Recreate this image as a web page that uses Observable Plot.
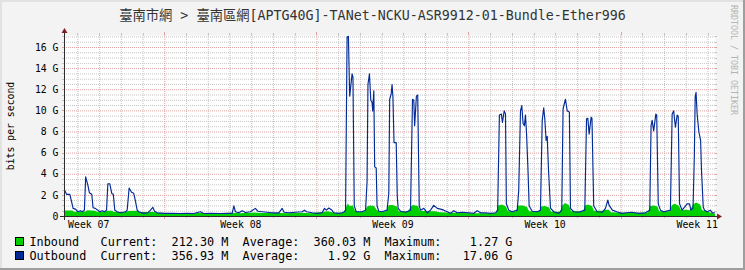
<!DOCTYPE html>
<html>
<head>
<meta charset="utf-8">
<script src="https://cdn.jsdelivr.net/npm/d3@7"></script>
<script src="https://cdn.jsdelivr.net/npm/@observablehq/plot@0.6"></script>
<style>
html, body { margin: 0; padding: 0; background: #f3f3f3; }
svg text { white-space: pre; }
</style>
</head>
<body>
<div id="chart"></div>
<script>
// ---- texts ----
const title = "臺南市網 > 臺南區網[APTG40G]-TANet-NCKU-ASR9912-01-Bundle-Ether996";
const yLabel = "bits per second";
const watermark = "RRDTOOL / TOBI OETIKER";

// ---- axes (time in days from the start of Week 08, values in Gbit/s) ----
const xDomain = [-4.615, 25.345];
const yDomain = [0, 17.136];
const yTicks = [0, 2, 4, 6, 8, 10, 12, 14, 16];
const yTickLabels = ["0", "2 G", "4 G", "6 G", "8 G", "10 G", "12 G", "14 G", "16 G"];
const weekStarts = [0, 7, 14, 21];
const weekLabelPos = [-3.5, 3.5, 10.5, 17.5, 24.5];
const weekLabels = ["Week 07", "Week 08", "Week 09", "Week 10", "Week 11"];

// ---- legend ----
const seriesNames = ["Inbound", "Outbound"];
const seriesColors = ["#00CF00", "#002A97"];
const currentVals = ["212.30 M", "356.93 M"];
const averageVals = ["360.03 M", "1.92 G"];
const maximumVals = ["1.27 G", "17.06 G"];

// ---- Outbound (line) ----
const outT = [-4.615,-4.52,-4.37,-4.29,-4.22,-4.11,-4.00,-3.88,-3.79,-3.70,-3.64,-3.54,-3.47,-3.36,-3.30,-3.20,-3.08,-2.99,-2.88,-2.77,-2.68,-2.62,-2.53,-2.44,-2.37,-2.30,-2.19,-2.04,-1.81,-1.73,-1.64,-1.53,-1.43,-1.35,-1.27,-1.20,-0.97,-0.78,-0.66,-0.55,-0.47,-0.35,0,
0.34,0.72,1.03,1.33,1.64,1.79,2.10,2.56,2.87,3.10,3.18,3.25,3.41,3.56,3.71,3.94,4.17,4.28,4.48,4.71,4.94,5.25,5.40,5.49,5.71,6.01,6.32,6.43,6.52,6.78,7.01,7.24,7.35,7.44,7.55,7.67,7.78,8.01,8.16,8.27,
8.32,8.39,8.45,8.51,8.62,8.66,8.72,8.81,8.93,9.08,9.24,9.31,9.35,9.42,9.48,9.54,9.57,9.62,9.66,9.73,9.77,9.85,10.00,10.23,10.31,10.35,10.42,10.46,10.50,10.55,10.65,10.70,10.74,10.85,11.08,11.31,11.40,11.46,11.50,11.58,11.64,11.71,11.77,11.92,12.08,12.23,12.38,12.54,12.69,12.84,13.00,13.15,13.30,13.46,13.69,13.99,14.22,14.38,14.53,14.76,14.99,15.22,
15.32,15.40,15.49,15.54,15.62,15.68,15.72,15.83,15.99,16.22,16.29,16.37,16.43,16.49,16.55,16.60,16.65,16.71,16.77,16.91,17.14,17.29,17.37,17.44,17.49,17.55,17.60,17.66,17.75,17.90,18.13,18.27,18.33,18.44,18.52,18.62,18.67,18.82,19.04,19.33,19.41,19.47,19.53,19.62,19.66,19.74,19.90,20.13,20.28,20.39,20.45,20.60,20.80,21.03,21.26,21.49,21.81,22.12,
22.32,22.38,22.43,22.50,22.60,22.64,22.71,22.81,22.96,23.27,23.35,23.42,23.50,23.58,23.63,23.69,23.81,24.04,24.15,24.21,24.31,24.37,24.41,24.45,24.50,24.58,24.66,24.70,24.78,24.84,24.96,25.11,25.19,25.30];
const outV = [2.5,2.1,2.1,1.4,0.77,0.7,0.45,0.55,0.45,0.6,3.75,2.97,2.25,2.1,0.83,0.77,0.6,0.45,0.55,0.45,0.6,3.1,3.1,2.18,2.1,0.6,0.45,0.35,0.45,0.6,2.7,2.3,2.2,1.45,0.6,0.45,0.3,0.35,0.6,0.87,0.5,0.35,0.3,
0.3,0.28,0.3,0.28,0.45,0.28,0.3,0.28,0.3,0.3,1.0,0.45,0.35,0.55,0.38,0.45,0.77,0.5,0.45,0.4,0.35,0.35,0.77,0.4,0.35,0.4,0.45,0.6,0.45,0.35,0.3,0.35,0.77,0.6,0.8,0.65,0.35,0.3,0.35,0.45,
0.6,17.0,17.06,11.4,13.5,13.2,1.0,0.45,0.45,0.45,0.6,3.3,12.5,13.5,11.0,10.8,10.0,11.9,4.7,4.6,1.0,0.5,0.45,0.6,2.2,11.1,11.6,12.5,11.3,7.0,7.0,1.9,0.77,0.5,0.4,0.6,11.1,11.0,8.6,11.4,11.5,1.0,0.6,0.77,0.35,0.6,1.05,0.77,0.7,0.6,0.45,0.3,0.55,0.35,0.4,0.35,0.3,0.55,0.35,0.35,0.3,0.35,
0.6,9.6,9.7,8.9,10.0,9.7,1.2,0.6,0.45,0.6,2.5,10.0,10.5,8.8,8.6,9.6,7.8,4.7,1.0,0.5,0.45,0.6,9.1,10.3,9.2,7.2,7.6,4.4,0.8,0.45,0.3,0.6,10.2,11.1,10.0,9.9,0.77,0.45,0.4,0.6,9.25,9.3,7.8,9.4,9.3,1.0,0.45,0.4,0.77,1.55,1.05,0.6,0.45,0.3,0.35,0.4,0.3,0.35,
0.6,8.6,9.1,8.1,9.7,9.6,1.2,0.6,0.45,0.6,9.7,10.0,8.45,9.6,9.5,1.2,0.6,1.2,1.2,0.6,0.77,5.6,11.3,11.75,9.7,8.0,7.2,4.4,0.9,0.6,0.45,0.6,0.35,0.357];

// ---- Inbound (area) ----
const inT = [-4.615,-4.24,-4.15,-3.64,-3.54,-3.19,-3.10,-2.73,-2.64,-2.41,-2.32,-1.81,-1.67,-1.21,-1.12,-0.57,-0.29,0,0.72,1.64,2.56,3.12,3.50,4.13,4.50,5.31,5.77,6.35,6.72,7.26,7.53,7.81,8.22,
8.32,8.44,8.54,8.68,8.77,9.00,9.24,9.33,9.47,9.65,9.77,9.90,10.21,10.34,10.51,10.70,10.79,11.21,11.35,11.44,11.67,11.77,12.23,12.46,12.69,13.38,14.07,14.76,15.27,
15.36,15.54,15.72,15.82,16.19,16.30,16.51,16.69,16.79,17.25,17.34,17.52,17.71,17.80,18.21,18.32,18.44,18.62,18.72,19.28,19.36,19.50,19.68,19.77,20.18,20.28,20.45,20.55,21.20,21.89,22.26,
22.35,22.54,22.70,22.77,23.27,23.36,23.50,23.69,23.78,24.01,24.19,24.33,24.47,24.66,24.75,24.98,25.15,25.345];
const inV = [0.52,0.52,0.4,0.42,0.55,0.5,0.4,0.4,0.5,0.5,0.38,0.38,0.48,0.5,0.35,0.4,0.3,0.28,0.26,0.28,0.26,0.3,0.26,0.33,0.28,0.28,0.25,0.3,0.26,0.38,0.45,0.3,0.3,
0.6,1.18,0.95,1.0,0.5,0.38,0.45,0.9,1.0,0.95,0.6,0.4,0.45,1.05,1.05,0.9,0.45,0.45,0.9,1.05,0.95,0.5,0.45,0.45,0.35,0.3,0.26,0.25,0.28,
1.0,1.08,0.9,0.45,0.45,1.0,1.0,0.85,0.45,0.45,0.9,0.95,0.8,0.4,0.4,1.0,1.24,1.05,0.45,0.45,1.0,1.08,0.95,0.5,0.5,0.6,0.6,0.35,0.3,0.3,0.32,
0.95,1.0,0.9,0.45,0.45,1.05,1.15,0.95,0.55,0.6,0.55,1.1,1.27,1.1,0.55,0.45,0.3,0.21];

const outbound = outT.map((t, i) => ({t, v: outV[i]}));
const inbound = inT.map((t, i) => ({t, v: inV[i]}));

// grid values
const dayLines = d3.range(-4, 26).filter(d => d % 7 !== 0);
const majorY = yTicks.filter(v => v > 0);
const minorY = d3.range(0.5, 17.01, 0.5).filter(v => v % 2 !== 0);

const GRID = "#c4c4c4", MGRID = "#e0a3a3";
const FONT = "'DejaVu Sans Mono', 'Noto Sans CJK TC', monospace";

const chart = Plot.plot({
  width: 745, height: 270,
  marginLeft: 64, marginRight: 30, marginTop: 35, marginBottom: 54,
  style: {background: "#f3f3f3", fontFamily: FONT, fontSize: "9.8px", color: "#000", overflow: "visible"},
  x: {domain: xDomain},
  y: {domain: yDomain},
  marks: [
    Plot.frame({fill: "#ffffff", stroke: "none"}),
    Plot.ruleX(dayLines, {stroke: GRID, strokeDasharray: "1,1"}),
    Plot.ruleY(minorY, {stroke: GRID, strokeDasharray: "1,1"}),
    Plot.ruleX(weekStarts, {stroke: MGRID, strokeDasharray: "1,1"}),
    Plot.ruleY(majorY, {stroke: MGRID, strokeDasharray: "1,1"}),
    Plot.areaY(inbound, {x: "t", y: "v", fill: seriesColors[0]}),
    Plot.line(outbound, {x: "t", y: "v", stroke: seriesColors[1], strokeWidth: 1.15}),
    Plot.axisY({ticks: yTicks, tickFormat: d => yTickLabels[yTicks.indexOf(d)], tickSize: 0, tickPadding: 6, label: null, fill: "#000"}),
    Plot.axisX({ticks: weekLabelPos, tickFormat: d => weekLabels[weekLabelPos.indexOf(d)], tickSize: 0, tickPadding: 5, label: null, fill: "#000"})
  ]
});

document.getElementById("chart").appendChild(chart);

// ---- rrdtool-style decorations using the plot's scales ----
const xs = chart.scale("x"), ys = chart.scale("y");
const svg = d3.select(chart);
const X0 = Math.round(xs.apply(xDomain[0])), X1 = Math.round(xs.apply(xDomain[1]));
const Y0 = Math.round(ys.apply(0)), Y1 = Math.round(ys.apply(yDomain[1]));
const g = svg.append("g");

// small grid ticks outside the frame
minorY.forEach(v => {
  const y = Math.round(ys.apply(v)) + 0.5;
  g.append("line").attr("x1", X0 - 2).attr("x2", X0).attr("y1", y).attr("y2", y).attr("stroke", GRID);
  g.append("line").attr("x1", X1).attr("x2", X1 + 2).attr("y1", y).attr("y2", y).attr("stroke", GRID);
});
majorY.forEach(v => {
  const y = Math.round(ys.apply(v)) + 0.5;
  g.append("line").attr("x1", X0 - 2).attr("x2", X0).attr("y1", y).attr("y2", y).attr("stroke", MGRID);
  g.append("line").attr("x1", X1).attr("x2", X1 + 2).attr("y1", y).attr("y2", y).attr("stroke", MGRID);
});
dayLines.forEach(d => {
  const x = Math.round(xs.apply(d)) + 0.5;
  g.append("line").attr("x1", x).attr("x2", x).attr("y1", Y0).attr("y2", Y0 + 2).attr("stroke", GRID);
  g.append("line").attr("x1", x).attr("x2", x).attr("y1", Y1 - 2).attr("y2", Y1).attr("stroke", GRID);
});
weekStarts.forEach(d => {
  const x = Math.round(xs.apply(d)) + 0.5;
  g.append("line").attr("x1", x).attr("x2", x).attr("y1", Y0).attr("y2", Y0 + 3).attr("stroke", MGRID);
  g.append("line").attr("x1", x).attr("x2", x).attr("y1", Y1 - 3).attr("y2", Y1).attr("stroke", MGRID);
});

// axes
const AXIS = "#2c2c2c", ARROW = "#7f1f1f";
g.append("line").attr("x1", X0 - 4).attr("x2", X1 + 4).attr("y1", Y0 + 0.5).attr("y2", Y0 + 0.5).attr("stroke", AXIS);
g.append("line").attr("x1", X0 + 0.5).attr("x2", X0 + 0.5).attr("y1", Y0 + 4).attr("y2", Y1 - 4).attr("stroke", AXIS);
g.append("path").attr("d", `M${X1 + 2},${Y0 - 3 + 0.5}L${X1 + 2},${Y0 + 3 + 0.5}L${X1 + 7},${Y0 + 0.5}Z`).attr("fill", ARROW);
g.append("path").attr("d", `M${X0 - 3 + 0.5},${Y1 - 2}L${X0 + 3 + 0.5},${Y1 - 2}L${X0 + 0.5},${Y1 - 7}Z`).attr("fill", ARROW);

// title
svg.append("text").attr("x", 372.5).attr("y", 20).attr("text-anchor", "middle")
  .attr("font-family", FONT).attr("font-size", "13.3px").attr("fill", "#333").text(title);

// y label
svg.append("text").attr("transform", "translate(11,126) rotate(-90)").attr("text-anchor", "middle")
  .attr("dy", "0.35em").attr("font-family", FONT).attr("font-size", "9.8px").attr("fill", "#000").text(yLabel);

// watermark
svg.append("text").attr("transform", "translate(734,5) rotate(90)").attr("text-anchor", "start")
  .attr("dy", "0.35em").attr("font-family", FONT).attr("font-size", "8.3px").attr("fill", "#b4b4b4").text(watermark);

// legend
seriesNames.forEach((name, i) => {
  const yb = 246 + i * 14;
  svg.append("rect").attr("x", 15.5).attr("y", yb - 8.5).attr("width", 8).attr("height", 8)
    .attr("fill", seriesColors[i]).attr("stroke", "#000");
  const line = name.padEnd(10) + "Current:" + currentVals[i].padStart(10) + "  " +
               "Average:" + averageVals[i].padStart(10) + "  " +
               "Maximum:" + maximumVals[i].padStart(10);
  svg.append("text").attr("x", 29.5).attr("y", yb).attr("xml:space", "preserve")
    .attr("text-anchor", "start")
    .attr("font-family", FONT).attr("font-size", "11.8px").attr("fill", "#000").text(line);
});

// 3D border (rrdtool shade)
svg.append("rect").attr("x", 0).attr("y", 0).attr("width", 745).attr("height", 2).attr("fill", "#e2e2e2");
svg.append("rect").attr("x", 0).attr("y", 0).attr("width", 2).attr("height", 270).attr("fill", "#e2e2e2");
svg.append("rect").attr("x", 0).attr("y", 268).attr("width", 745).attr("height", 2).attr("fill", "#9e9e9e");
svg.append("rect").attr("x", 743).attr("y", 0).attr("width", 2).attr("height", 270).attr("fill", "#9e9e9e");
</script>
</body>
</html>
